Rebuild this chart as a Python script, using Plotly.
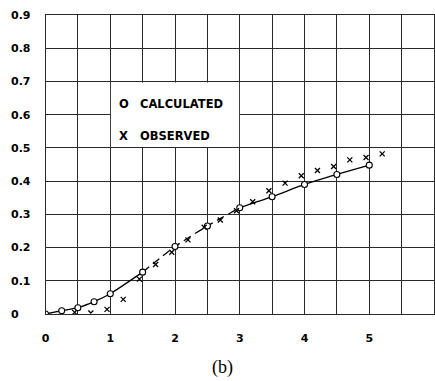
import plotly.graph_objects as go

# ---- data ----
calc_x = [0, 0.25, 0.5, 0.75, 1.0, 1.5, 2.0, 2.5, 3.0, 3.5, 4.0, 4.5, 5.0]
calc_y = [0.0, 0.01, 0.019, 0.037, 0.061, 0.126, 0.203, 0.265, 0.32, 0.353, 0.39, 0.42, 0.448]

obs_x = [0.45, 0.7, 0.95, 1.2, 1.45, 1.7, 1.95, 2.2, 2.45, 2.7, 2.95, 3.2, 3.45,
         3.7, 3.95, 4.2, 4.45, 4.7, 4.95, 5.2]
obs_y = [0.005, 0.003, 0.014, 0.044, 0.105, 0.149, 0.186, 0.223, 0.261, 0.283, 0.311,
         0.338, 0.371, 0.394, 0.416, 0.432, 0.444, 0.464, 0.471, 0.482]

x_tickvals = [0, 0.5, 1, 1.5, 2, 2.5, 3, 3.5, 4, 4.5, 5, 5.5, 6]
x_ticktext = ["0", "", "1", "", "2", "", "3", "", "4", "", "5", "", ""]
y_tickvals = [0, 0.1, 0.2, 0.3, 0.4, 0.5, 0.6, 0.7, 0.8, 0.9]
y_ticktext = ["0", "0.1", "0.2", "0.3", "0.4", "0.5", "0.6", "0.7", "0.8", "0.9"]

legend_labels = ["CALCULATED", "OBSERVED"]
legend_symbols = ["O", "X"]
panel_label = "(b)"

# ---- figure ----
W, H = 435, 381
ML, MT, MB = 42, 15, 67
GRID = "#2a2a2a"
TICKFONT = dict(family="DejaVu Sans", size=11, color="black", weight="bold")

fig = go.Figure()

line_style = dict(color="black", width=1.3, shape="spline", smoothing=0.6)
# solid part
fig.add_trace(go.Scatter(x=calc_x[:6], y=calc_y[:6], mode="lines",
                         line=line_style, hoverinfo="skip", showlegend=False))
# dashed part
fig.add_trace(go.Scatter(x=calc_x[5:9], y=calc_y[5:9], mode="lines",
                         line=dict(line_style, dash="8px,5px"), hoverinfo="skip", showlegend=False))
# solid part
fig.add_trace(go.Scatter(x=calc_x[8:], y=calc_y[8:], mode="lines",
                         line=line_style, hoverinfo="skip", showlegend=False))
# calculated markers
fig.add_trace(go.Scatter(x=calc_x, y=calc_y, mode="markers",
                         marker=dict(symbol="circle", size=6, color="white",
                                     line=dict(color="black", width=1.1)),
                         showlegend=False))
# observed markers (on overlay axis that only carries the labels)
fig.add_trace(go.Scatter(x=obs_x, y=obs_y, mode="markers", yaxis="y2",
                         marker=dict(symbol="x-thin", size=5,
                                     line=dict(color="black", width=1.3)),
                         showlegend=False))

# white legend box blanking the grid
fig.add_shape(type="rect", xref="x", yref="y", x0=1.01, x1=2.99, y0=0.503, y1=0.697,
              fillcolor="white", line=dict(width=0), layer="between")

legend_y = [0.633, 0.535]
for sym, lab, yy in zip(legend_symbols, legend_labels, legend_y):
    fig.add_annotation(x=1.11, y=yy, xref="x", yref="y", text=sym, showarrow=False,
                       xanchor="left", yanchor="middle",
                       font=dict(family="DejaVu Sans", size=11.5, color="black", weight="bold"))
    fig.add_annotation(x=1.435, y=yy, xref="x", yref="y", text=lab, showarrow=False,
                       xanchor="left", yanchor="middle",
                       font=dict(family="DejaVu Sans", size=11.5, color="black", weight="bold"))

fig.add_annotation(x=221 / W, y=-0.18, xref="paper", yref="paper", text=panel_label,
                   showarrow=False, xanchor="center", yanchor="middle",
                   font=dict(family="Liberation Serif", size=18, color="black"))

fig.update_layout(
    width=W, height=H,
    margin=dict(l=0, r=0, t=MT, b=MB, pad=0),
    paper_bgcolor="white", plot_bgcolor="white",
    xaxis=dict(range=[0, 6], domain=[ML / W, 1], tickvals=x_tickvals, ticktext=x_ticktext,
               showgrid=True, gridcolor=GRID, gridwidth=1, zeroline=False,
               showline=True, linecolor=GRID, linewidth=1, mirror=True,
               ticks="outside", ticklen=0, ticklabelstandoff=14, tickfont=TICKFONT,
               fixedrange=True),
    yaxis=dict(range=[0, 0.9], tickvals=y_tickvals, ticktext=y_ticktext,
               showgrid=True, gridcolor=GRID, gridwidth=1, zeroline=False,
               showline=True, linecolor=GRID, linewidth=1, mirror=True,
               showticklabels=False, ticks="", fixedrange=True),
    yaxis2=dict(range=[0, 0.9], overlaying="y", anchor="free", position=0, side="left",
                tickvals=y_tickvals, ticktext=y_ticktext, showgrid=False, zeroline=False,
                showline=False, ticks="", ticklabelposition="inside", ticklabelstandoff=3,
                ticklabeloverflow="allow", tickfont=TICKFONT, fixedrange=True),
)

fig.write_html("out.html")
